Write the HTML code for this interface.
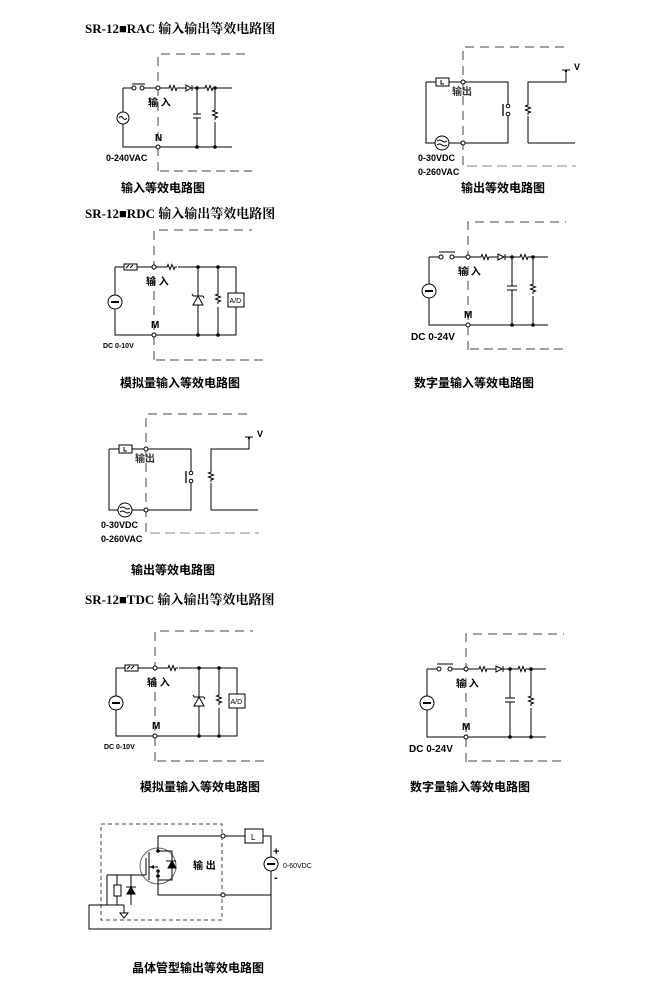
<!DOCTYPE html>
<html><head><meta charset="utf-8"><style>
html,body{margin:0;padding:0;background:#fff}
svg{display:block}
.t{font-family:"Liberation Serif","Noto Serif CJK SC",serif;font-weight:bold;font-size:13px}
.c{font-family:"Liberation Sans","Noto Sans CJK SC",sans-serif;font-weight:bold;font-size:12px}
.s{font-family:"Liberation Sans","Noto Sans CJK SC",sans-serif;font-size:9px;font-weight:bold}
.l{font-family:"Liberation Sans","Noto Sans CJK SC",sans-serif;font-size:10px;font-weight:bold}
</style></head><body>
<svg width="657" height="1000" viewBox="0 0 657 1000" xmlns="http://www.w3.org/2000/svg">
<defs>
<g id="rh"><path d="M0,0 l2,0 l1,-2.5 l2,5 l2,-5 l2,5 l1,-2.5 l2,0" fill="none" stroke="#000" stroke-width="1"/></g>
<g id="rv"><path d="M0,0 l0,2 l-2.5,1 l5,2 l-5,2 l5,2 l-2.5,1 l0,2" fill="none" stroke="#000" stroke-width="1"/></g>
<g id="out">
 <g fill="none" stroke="#000" stroke-width="1">
  <path d="M463,165 V47 H566" stroke-dasharray="9,6" stroke="#444"/>
  <path d="M467,166 H576" stroke-dasharray="10,5" stroke="#888"/>
  <path d="M426,82 H436 M449,82 H508 V104 M508,116 V143 H426 V82"/>
  <rect x="436" y="78" width="13" height="8" fill="#fff"/>
  <path d="M441,80 v4 h3"/>
  <circle cx="463" cy="82" r="2" fill="#fff"/>
  <circle cx="463" cy="143" r="2" fill="#fff"/>
  <circle cx="508" cy="106" r="1.8" fill="#fff"/>
  <circle cx="508" cy="114" r="1.8" fill="#fff"/>
  <path d="M503,104 V116" stroke-width="1.3"/>
  <circle cx="442" cy="143" r="7" fill="#fff"/>
  <path d="M437,141 q2.5,-2 5,0 t5,0 M437,145 q2.5,-2 5,0 t5,0"/>
  <path d="M528,143 V116 M528,104 V82 H566 V70 M562,70 H570" />
  <path d="M566,70 V72" stroke-width="2"/>
  <path d="M528,143 H575"/>
 </g>
 <use href="#rv" x="528" y="103"/>
 <text class="l" x="452" y="95" font-weight="normal" fill="#333">输出</text>
 <text class="s" x="574" y="70">V</text>
 <text class="s" x="418" y="161">0-30VDC</text>
 <text class="s" x="418" y="175">0-260VAC</text>
</g>
<g id="ana">
 <g fill="none" stroke="#000" stroke-width="1">
  <path d="M154,360 V230 H252" stroke-dasharray="9,6" stroke="#444"/>
  <path d="M156,360 H265" stroke-dasharray="9,5" stroke="#444"/>
  <path d="M115,267 H124 M137,267 H152 M156,267 H165 M178,267 H236 V335 H115 V267"/>
  <rect x="124" y="264" width="13" height="6" fill="#fff"/>
  <path d="M126,268 l3,-3 m1,3 l3,-3"/>
  <circle cx="154" cy="267" r="2" fill="#fff"/>
  <circle cx="154" cy="335" r="2" fill="#fff"/>
  <circle cx="115" cy="302" r="7" fill="#fff"/>
  <path d="M111,302 H119" stroke-width="2"/>
  <path d="M198,267 V335 M218,267 V335"/>
  <path d="M193,305 H203 L198,296 Z" fill="#fff"/>
  <path d="M193,296 H203 M193,296 l-1,-2 M203,296 l1,2"/>
  <rect x="228" y="293" width="16" height="14" fill="#fff"/>
 </g>
 <use href="#rh" x="165" y="267"/>
 <rect x="217" y="293" width="2" height="14" fill="#fff"/>
 <use href="#rv" x="218" y="292"/>
 <circle cx="198" cy="267" r="1.8"/><circle cx="218" cy="267" r="1.8"/>
 <circle cx="198" cy="335" r="1.8"/><circle cx="218" cy="335" r="1.8"/>
 <text x="229.5" y="303" font-family="Liberation Sans" font-size="7">A/D</text>
 <text class="l" x="146" y="285">输 入</text>
 <text class="l" x="151" y="328">M</text>
 <text x="103" y="348" font-family="Liberation Sans" font-size="7" font-weight="bold">DC 0-10V</text>
</g>
<g id="dig">
 <g fill="none" stroke="#000" stroke-width="1">
  <path d="M468,350 V222 H566" stroke-dasharray="9,6" stroke="#444"/>
  <path d="M470,349 H568" stroke-dasharray="9,5" stroke="#444"/>
  <path d="M429,257 H439 M454,257 H466 M470,257 H479 M491,257 H498 M505,257 H518 M530,257 H548 M429,257 V325 H548"/>
  <circle cx="441" cy="257" r="2" fill="#fff"/><circle cx="452" cy="257" r="2" fill="#fff"/>
  <path d="M439,252 H455"/>
  <circle cx="468" cy="257" r="2" fill="#fff"/>
  <circle cx="468" cy="325" r="2" fill="#fff"/>
  <path d="M498,254 V260 L504,257 Z M505,254 V260"/>
  <path d="M512,257 V286 M507,286 H517 M507,290 H517 M512,290 V325 M533,257 V325"/>
  <circle cx="429" cy="291" r="7" fill="#fff"/>
  <path d="M425,291 H433" stroke-width="2"/>
 </g>
 <use href="#rh" x="479" y="257"/><use href="#rh" x="518" y="257"/>
 <rect x="532" y="282" width="2" height="14" fill="#fff"/>
 <use href="#rv" x="533" y="282"/>
 <circle cx="512" cy="257" r="1.8"/><circle cx="533" cy="257" r="1.8"/>
 <circle cx="512" cy="325" r="1.8"/><circle cx="533" cy="325" r="1.8"/>
 <text class="l" x="458" y="275">输 入</text>
 <text class="l" x="464" y="318">M</text>
 <text x="411" y="340" font-family="Liberation Sans" font-size="10" font-weight="bold">DC 0-24V</text>
</g>
</defs>

<text class="t" x="85" y="33">SR-12■RAC 输入输出等效电路图</text>
<g fill="none" stroke="#000" stroke-width="1">
 <path d="M158,171 V54 H245" stroke-dasharray="9,6" stroke="#444"/>
 <path d="M160,171 H252" stroke-dasharray="9,5" stroke="#444"/>
 <path d="M123,88 H132 M144,88 H156 M160,88 H167 M179,88 H186 M192,88 H203 M215,88 H232 M123,88 V147 H232"/>
 <circle cx="134" cy="88" r="2" fill="#fff"/><circle cx="142" cy="88" r="2" fill="#fff"/>
 <path d="M132,84 H145"/>
 <circle cx="158" cy="88" r="2" fill="#fff"/><circle cx="158" cy="147" r="2" fill="#fff"/>
 <path d="M186,85 V91 L191,88 Z M192,85 V91"/>
 <path d="M197,88 V114 M193,114 H201 M193,118 H201 M197,118 V147 M215,88 V147"/>
 <circle cx="123" cy="118" r="6" fill="#fff"/>
 <path d="M119,118 q2,-3 4,0 t4,0"/>
</g>
<use href="#rh" x="167" y="88"/><use href="#rh" x="203" y="88"/>
<rect x="214" y="108" width="2" height="14" fill="#fff"/>
<use href="#rv" x="215" y="108"/>
<circle cx="197" cy="88" r="1.8"/><circle cx="215" cy="88" r="1.8"/>
<circle cx="197" cy="147" r="1.8"/><circle cx="215" cy="147" r="1.8"/>
<text class="l" x="148" y="106">输 入</text>
<text class="l" x="155" y="141">N</text>
<text class="s" x="106" y="161">0-240VAC</text>
<text class="c" x="121" y="192">输入等效电路图</text>

<use href="#out"/>
<text class="c" x="461" y="192">输出等效电路图</text>

<text class="t" x="85" y="218">SR-12■RDC 输入输出等效电路图</text>
<use href="#ana"/>
<text class="c" x="120" y="387">模拟量输入等效电路图</text>
<use href="#dig"/>
<text class="c" x="414" y="387">数字量输入等效电路图</text>

<use href="#out" transform="translate(-317,367)"/>
<text class="c" x="131" y="574">输出等效电路图</text>

<text class="t" x="85" y="604">SR-12■TDC 输入输出等效电路图</text>
<use href="#ana" transform="translate(1,401)"/>
<text class="c" x="140" y="791">模拟量输入等效电路图</text>
<use href="#dig" transform="translate(-2,412)"/>
<text class="c" x="410" y="791">数字量输入等效电路图</text>

<g fill="none" stroke="#000" stroke-width="1">
 <rect x="101" y="824" width="121" height="96" stroke-dasharray="4,3" stroke="#444"/>
 <path d="M158,836 H221 M225,836 H245 M263,836 H271 V857 M271,871 V929 H89 V905 H124 M158,895 H221 M225,895 H271"/>
 <rect x="245" y="829" width="18" height="14" fill="#fff"/>
 <circle cx="223" cy="836" r="2" fill="#fff"/><circle cx="223" cy="895" r="2" fill="#fff"/>
 <circle cx="271" cy="864" r="7" fill="#fff"/>
 <path d="M267,864 H275" stroke-width="2"/>
 <circle cx="158" cy="866" r="18" stroke="#666"/>
 <path d="M158,836 V851 M158,880 V895 M149,852 V880 M146,858 V875 M107,875 H146 M149,867 H158 M158,851 H172 V880 H158 M158,871 V880"/>
 <path d="M168,868 H176 L172,861 Z" fill="#000"/>
 <path d="M166,861 H176"/>
 <path d="M107,875 V905 M131,875 V905 M124,905 V913"/>
 <rect x="114" y="885" width="7" height="11" fill="#fff"/>
 <path d="M127,894 H135 L131,887 Z" fill="#000"/>
 <path d="M126,887 H136"/>
 <path d="M120,913 H128 L124,918 Z"/>
 <path d="M117,875 V885 M117,896 V905"/>
</g>
<path d="M150,867 l4,-2 v4 z" fill="#000"/>
<circle cx="158" cy="851" r="1.8"/><circle cx="158" cy="871" r="1.8"/><circle cx="158" cy="876" r="1.8"/>
<text x="251" y="840" font-family="Liberation Sans" font-size="8">L</text>
<text class="l" x="193" y="869">输 出</text>
<text x="273" y="855" font-family="Liberation Sans" font-size="11" font-weight="bold">+</text>
<text x="274" y="881" font-family="Liberation Sans" font-size="11" font-weight="bold">-</text>
<text x="283" y="868" font-family="Liberation Sans" font-size="7">0-60VDC</text>
<text class="c" x="132" y="972">晶体管型输出等效电路图</text>
</svg>
</body></html>
